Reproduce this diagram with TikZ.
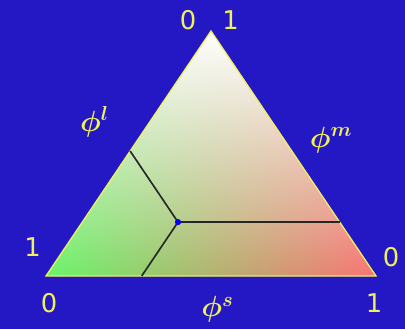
\documentclass[tikz,border=0pt]{standalone}
\usepackage{fontspec}
\setsansfont{DejaVu Sans}
\usetikzlibrary{fadings}
\definecolor{SlideBlue}{RGB}{36,24,196}
\definecolor{LabelYellow}{RGB}{240,240,90}
\definecolor{LiquidGreen}{RGB}{105,245,105}
\definecolor{SolidRed}{RGB}{250,115,115}
\tikzfading[name=fadesouth, top color=transparent!0, bottom color=transparent!100]

\begin{document}
\begin{tikzpicture}[x=0.03cm, y=0.03cm,
    every node/.style={text=LabelYellow, inner sep=0pt},
    ticklabel/.style={font=\sffamily\fontsize{22}{22}\selectfont},
    phaselabel/.style={font=\fontsize{24}{24}\selectfont\mathversion{bold}},
    edgeline/.style={draw=LabelYellow, line width=1.1pt},
    tieline/.style={draw=black!85, line width=1.4pt}
  ]
    % Background
    \fill[SlideBlue] (0,0) rectangle (405,329);
    \useasboundingbox (0,0) rectangle (405,329);

    % Corners of the triangle
    \coordinate (bl) at (46,53);
    \coordinate (br) at (376,53);
    \coordinate (top) at (211,298);

    % Triangle with colour blend
    \shade[left color=LiquidGreen, right color=SolidRed] (bl) -- (br) -- (top) -- cycle;
    \fill[white, path fading=fadesouth] (bl) -- (br) -- (top) -- cycle;
    \draw[edgeline] (bl) -- (br) -- (top) -- cycle;

    % State point and its feet on the edges
    \node[circle, fill=blue, minimum size=5pt] (state) at (barycentric cs:bl=0.49,br=0.29,top=0.22) {};
    \coordinate (footl) at (barycentric cs:bl=0.49,br=0,top=0.51);
    \coordinate (foots) at (barycentric cs:bl=0.71,br=0.29,top=0);
    \coordinate (footm) at (barycentric cs:bl=0,br=0.78,top=0.22);

    \draw[tieline] (state.center) -- (footl);
    \draw[tieline] (state.center) -- (foots);
    \draw[tieline] (state.center) -- (footm);
    \node[circle, fill=blue, minimum size=5pt] at (state) {};

    % Axis ends
    \node[ticklabel] (topzero) at (188,308.5) {0};
    \node[ticklabel] (topone) at (230.5,308.5) {1};
    \node[ticklabel] (leftone) at (32.5,82) {1};
    \node[ticklabel] (blzero) at (49,25.5) {0};
    \node[ticklabel] (rightzero) at (391,72) {0};
    \node[ticklabel] (brone) at (374,26) {1};

    % Phase fractions
    \node[phaselabel] (phil) at (94.5,207) {$\phi^l$};
    \node[phaselabel] (phim) at (331,189) {$\phi^m$};
    \node[phaselabel] (phis) at (217.5,19.5) {$\phi^s$};
  \end{tikzpicture}
\end{document}
